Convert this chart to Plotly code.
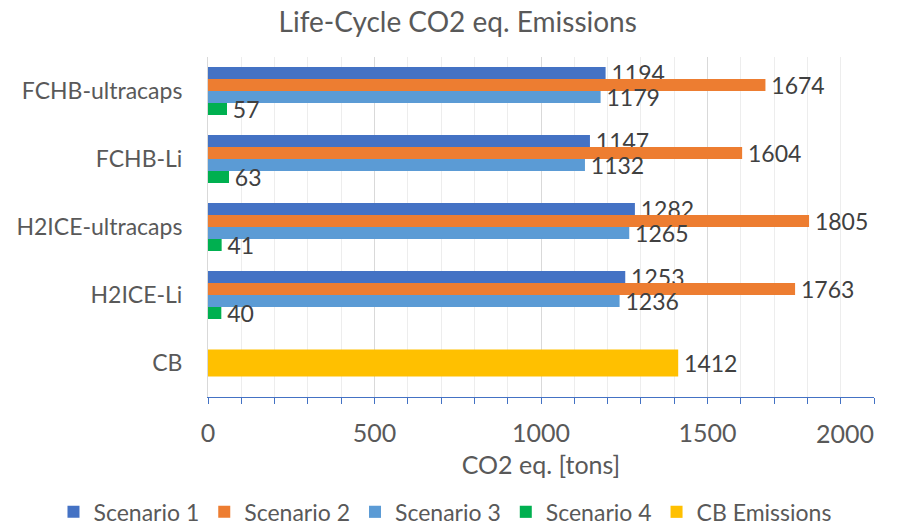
import plotly.graph_objects as go

# Vehicle configurations, listed top to bottom
categories = ["FCHB-ultracaps", "FCHB-Li", "H2ICE-ultracaps", "H2ICE-Li", "CB"]

# Life-cycle CO2 eq. emissions [tons] per scenario (no scenario values for CB)
scenario_1 = [1194, 1147, 1282, 1253, None]
scenario_2 = [1674, 1604, 1805, 1763, None]
scenario_3 = [1179, 1132, 1265, 1236, None]
scenario_4 = [57, 63, 41, 40, None]
cb_emissions = [None, None, None, None, 1412]

# x-axis tick values and their labels
x_ticks = [0, 500, 1000, 1500, 2000]
x_tick_labels = ["0", "500", "1000", "1500", "2000"]

series_names = ["Scenario 1", "Scenario 2", "Scenario 3", "Scenario 4"]
series_values = [scenario_1, scenario_2, scenario_3, scenario_4]
series_colors = ["#4472C4", "#ED7D31", "#5B9BD5", "#00B050"]

FONT = "Lato"
TEXT = "#595959"
LABEL = "#404040"

bar_w = 0.1765          # thickness of each scenario bar (category units)
group_start = -2 * bar_w


def value_labels(vals):
    # a thin leading space keeps the label clear of the bar end
    return [("" if v is None else "\u2009" + str(v)) for v in vals]


fig = go.Figure()
for i, (name, vals, col) in enumerate(zip(series_names, series_values, series_colors)):
    fig.add_trace(go.Bar(
        y=categories, x=vals, orientation="h", name=name,
        marker=dict(color=col, line=dict(width=0)),
        width=bar_w, offset=group_start + i * bar_w,
        text=value_labels(vals),
        textposition="outside", constraintext="none", cliponaxis=False,
        textfont=dict(family=FONT, size=23, color=LABEL),
    ))

fig.add_trace(go.Bar(
    y=categories, x=cb_emissions, orientation="h", name="CB Emissions",
    marker=dict(color="#FFC000", line=dict(width=0)),
    width=0.4, offset=-0.2,
    text=value_labels(cb_emissions),
    textposition="outside", constraintext="none", cliponaxis=False,
    textfont=dict(family=FONT, size=23, color=LABEL),
))

# the last tick label sits at the right edge, so it is right-aligned to its tick
tick_font = dict(family=FONT, size=25, color=TEXT)
fig.add_annotation(
    x=x_ticks[-1], xref="x", y=0, yref="paper",
    text=x_tick_labels[-1], showarrow=False,
    xanchor="right", yanchor="top", yshift=-19, xshift=2,
    font=tick_font,
)

fig.update_layout(
    width=901, height=527,
    barmode="overlay",
    plot_bgcolor="white", paper_bgcolor="white",
    margin=dict(l=208, r=27, t=57, b=130, autoexpand=False),
    font=dict(family=FONT, color=TEXT),
    title=dict(text="Life-Cycle CO2 eq. Emissions", x=0.508, xref="container",
               xanchor="center", y=0.957, yref="container", yanchor="middle",
               font=dict(family=FONT, size=28, color=TEXT)),
    xaxis=dict(
        range=[0, 2000], tickmode="array", tickvals=x_ticks,
        ticktext=x_tick_labels[:-1] + [""], automargin=False,
        showgrid=True, gridcolor="#D9D9D9", gridwidth=1,
        zeroline=False,
        showline=True, linecolor="#4472C4", linewidth=1.3,
        ticks="outside", ticklen=6, tickcolor="#4472C4", tickwidth=1.3,
        ticklabelstandoff=8,
        minor=dict(dtick=100, showgrid=True, gridcolor="#EDEDED", gridwidth=1,
                   ticks="outside", ticklen=6, tickcolor="#4472C4", tickwidth=1.3),
        tickfont=tick_font,
        title=dict(text="CO2 eq. [tons]", font=dict(family=FONT, size=25, color=TEXT),
                   standoff=10),
    ),
    yaxis=dict(
        autorange="reversed", categoryorder="array", categoryarray=categories,
        showgrid=False, zeroline=False, automargin=False,
        showline=True, linecolor="#D9D9D9", linewidth=1,
        ticks="", ticklabelstandoff=20,
        tickfont=dict(family=FONT, size=23, color=TEXT),
    ),
    legend=dict(
        orientation="h", x=-0.232, xanchor="left",
        y=-0.338, yanchor="middle",
        font=dict(family=FONT, size=23, color=TEXT),
        itemwidth=30, traceorder="normal",
    ),
)

fig.write_html("out.html")
